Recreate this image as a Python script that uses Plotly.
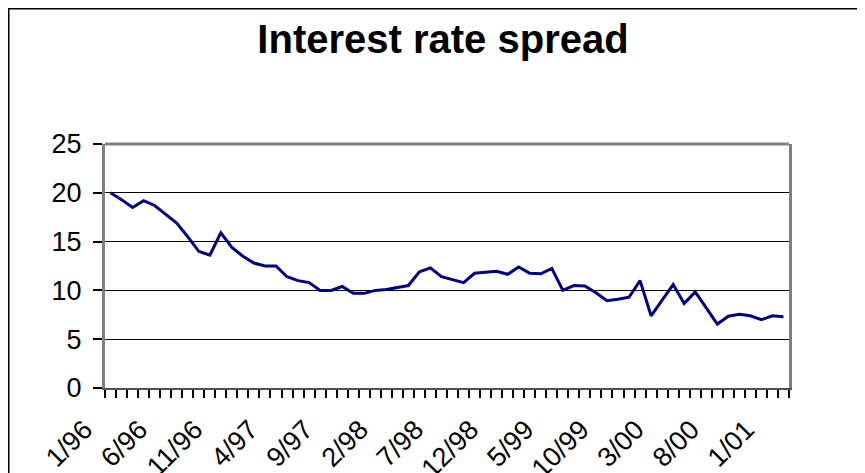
import plotly.graph_objects as go

# Monthly interest rate spread, Jan 1996 .. Feb 2001
months = [f"{m}/{y:02d}" for y in (96, 97, 98, 99, 0, 1) for m in range(1, 13)][:62]
spread = [
    20.0, 19.3, 18.5, 19.2, 18.7, 17.8, 16.9, 15.5, 14.0, 13.6,
    15.9, 14.4, 13.5, 12.8, 12.5, 12.5, 11.4, 11.0, 10.8, 10.0,
    10.0, 10.4, 9.7, 9.7, 10.0, 10.1, 10.3, 10.5, 11.9, 12.3,
    11.4, 11.1, 10.8, 11.75, 11.85, 11.95, 11.65, 12.4, 11.75, 11.7,
    12.25, 10.0, 10.5, 10.45, 9.75, 8.95, 9.1, 9.3, 11.0, 7.4,
    9.0, 10.6, 8.65, 9.85, 8.2, 6.55, 7.35, 7.55, 7.4, 7.0,
    7.4, 7.3,
]
tick_labels = ["1/96", "6/96", "11/96", "4/97", "9/97", "2/98", "7/98",
               "12/98", "5/99", "10/99", "3/00", "8/00", "1/01"]
y_ticks = [0, 5, 10, 15, 20, 25]

idx = list(range(len(spread)))
tick_pos = [months.index(t) for t in tick_labels]

FONT = "Liberation Sans, Arial, sans-serif"
W, H = 857, 465
ML, MT, PW, PH = 97, 136, 684, 244

fig = go.Figure()
fig.add_trace(go.Scatter(
    x=idx, y=spread, mode="lines",
    line=dict(color="#000080", width=3),
    showlegend=False, hoverinfo="skip",
))

fig.update_layout(
    width=W, height=H, autosize=False,
    margin=dict(l=ML, r=W - ML - PW, t=MT, b=H - MT - PH, autoexpand=False),
    paper_bgcolor="white", plot_bgcolor="white",
    title=dict(
        text="Interest rate spread",
        x=435 / W, xanchor="center", xref="container",
        y=1 - 30.5 / H, yanchor="middle",
        font=dict(family=FONT, size=40, color="black", weight="bold"),
    ),
    font=dict(family=FONT, color="black"),
)

fig.update_xaxes(
    type="linear", range=[-0.5, len(spread) - 0.5], automargin=False,
    tickmode="array", tickvals=tick_pos, ticktext=tick_labels,
    tickangle=-45, ticks="", tickfont=dict(size=27, family=FONT, color="black"),
    ticklabelstandoff=13, ticklabelshift=-26,
    showgrid=False, zeroline=False,
    showline=True, linecolor="#505050", linewidth=2,
    minor=dict(tickmode="linear", tick0=-0.5, dtick=1, ticks="outside",
               ticklen=8, tickcolor="black", tickwidth=1.5, showgrid=False),
)
fig.update_yaxes(
    range=[0, 25], tickmode="array", tickvals=y_ticks, automargin=False,
    ticks="outside", ticklen=9, tickcolor="black", tickwidth=1.5,
    tickfont=dict(size=27, family=FONT, color="black"),
    ticklabelstandoff=6,
    showgrid=True, gridcolor="black", gridwidth=1, zeroline=False,
    showline=True, linecolor="#808080", linewidth=3, mirror=True,
)

# top border of plot area (gray) and outer chart border (black)
fig.add_shape(type="line", xref="paper", yref="paper", x0=0, x1=1, y0=1, y1=1,
              line=dict(color="#808080", width=3))
fig.add_shape(type="rect", xref="paper", yref="paper",
              x0=(0.5 - ML) / PW, x1=1.3, y0=-0.8, y1=1 + (MT - 0.5) / PH,
              line=dict(color="black", width=2), fillcolor="rgba(0,0,0,0)")

fig.write_html("out.html")
